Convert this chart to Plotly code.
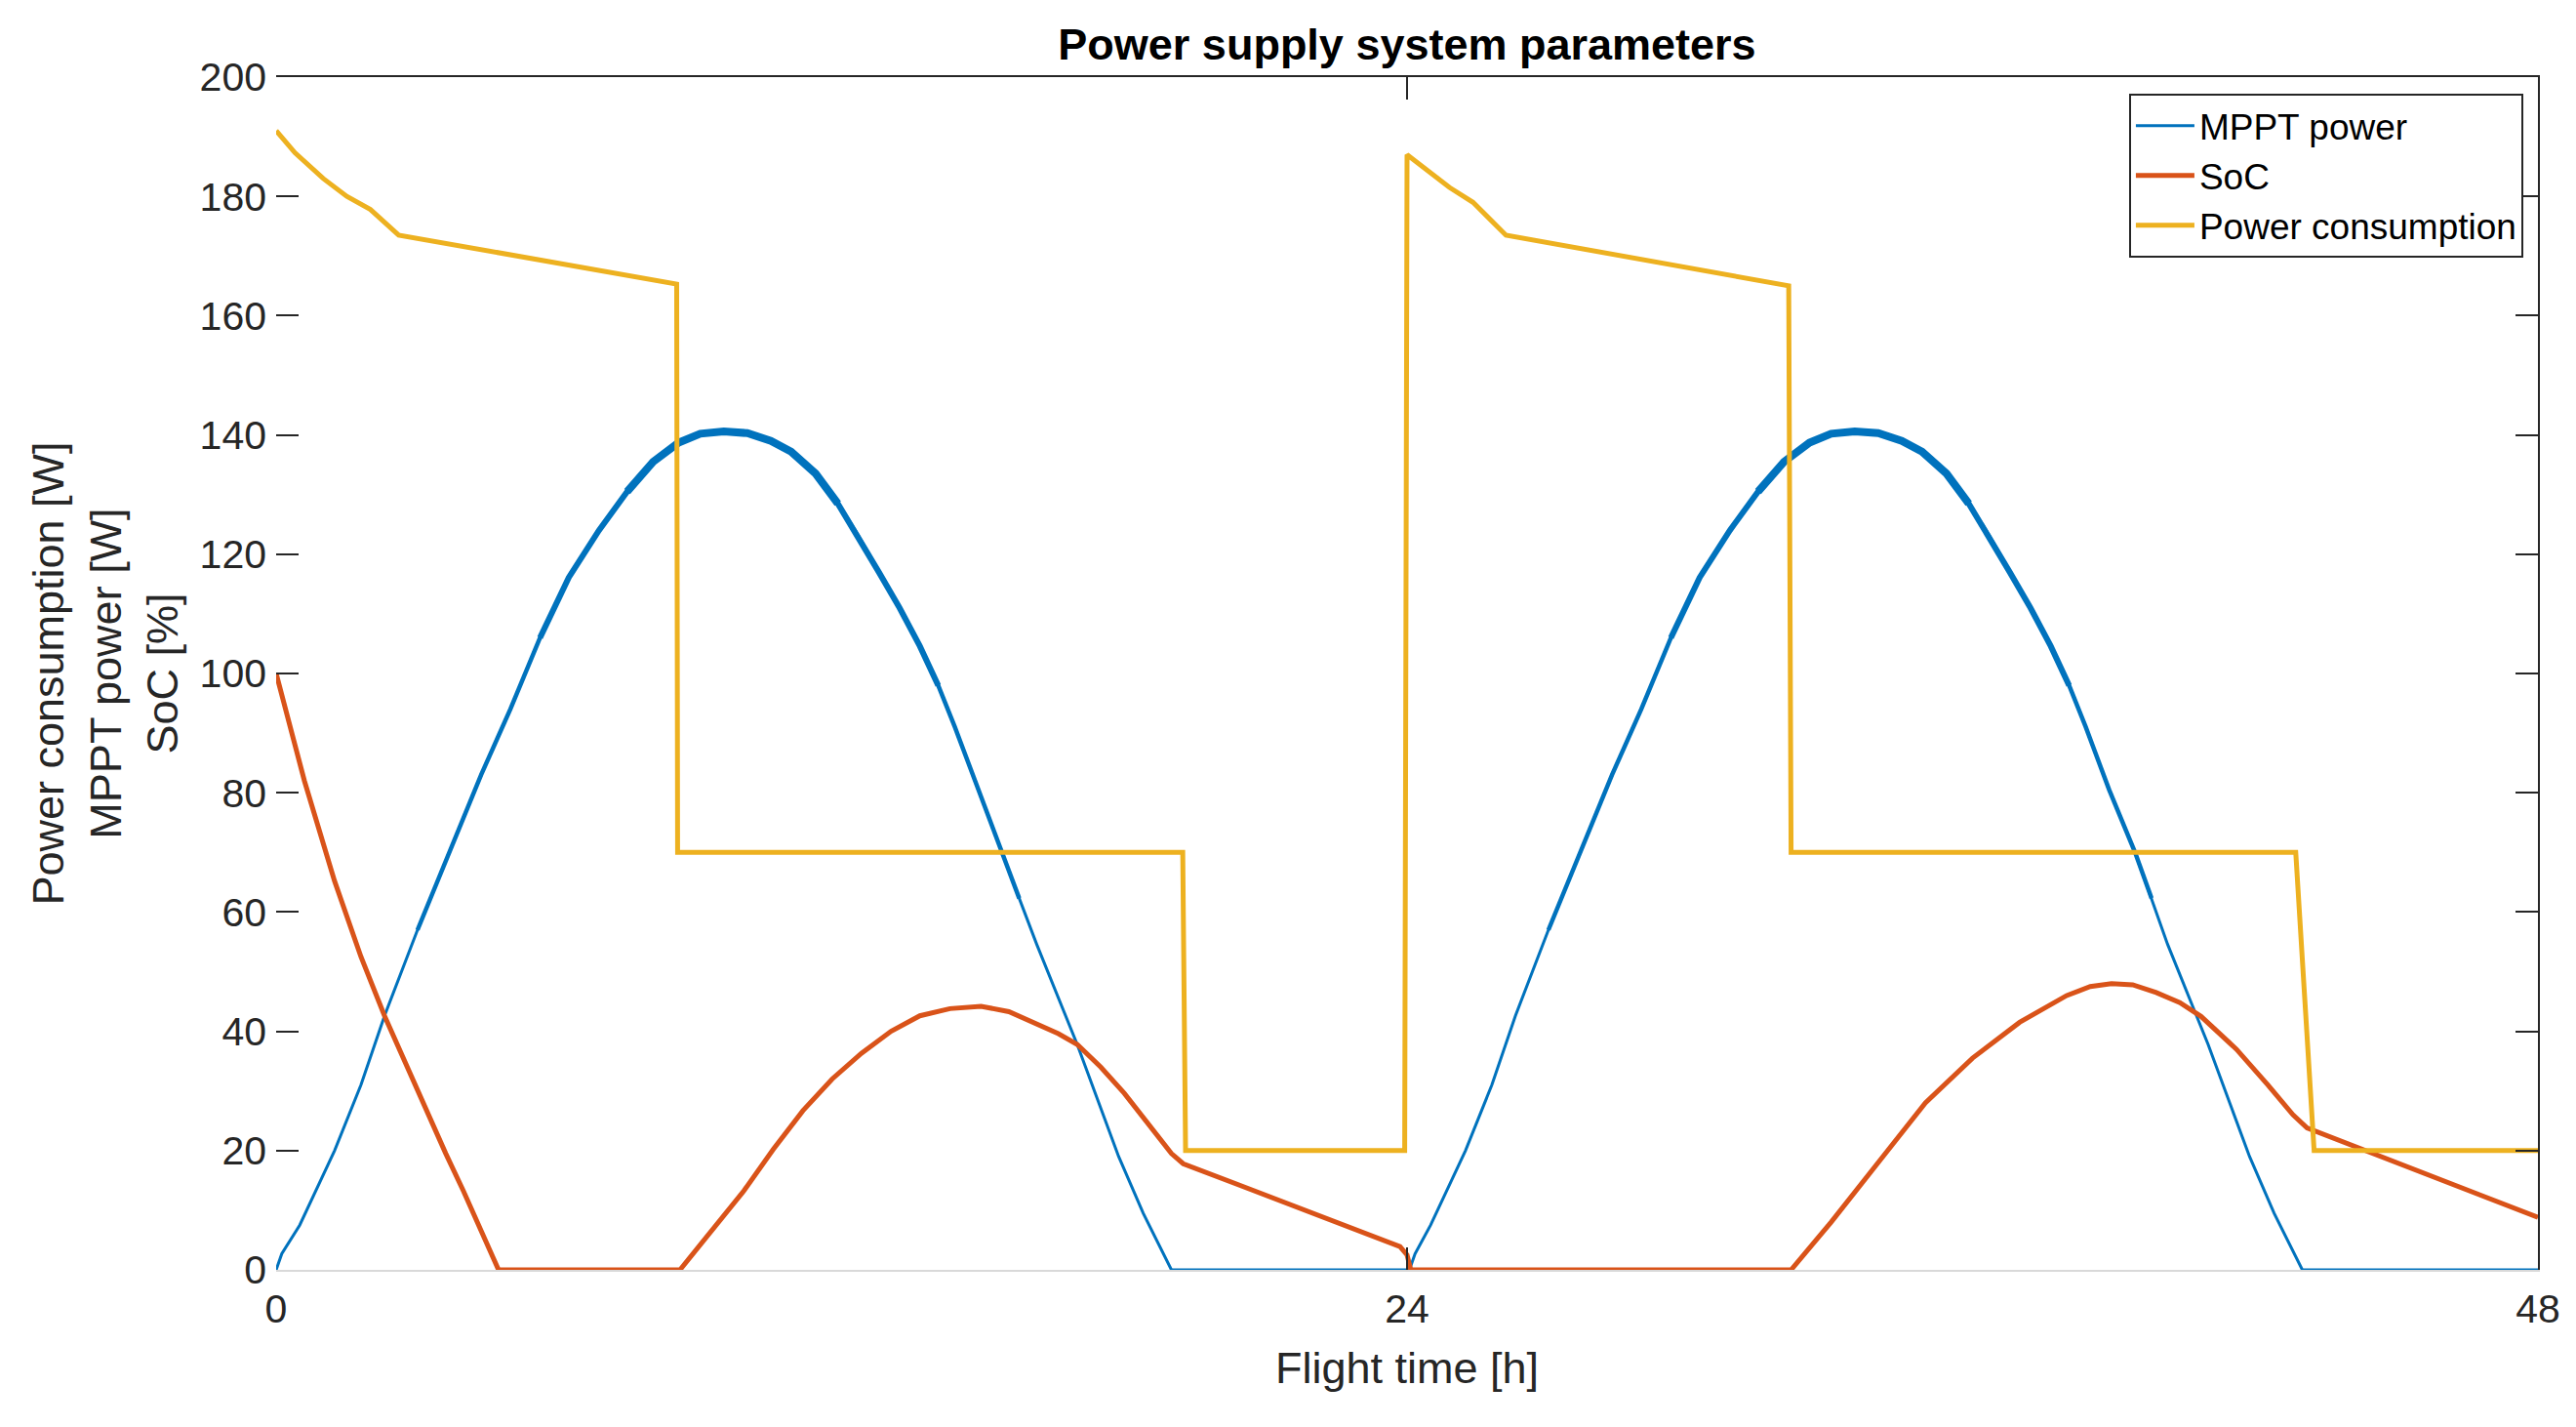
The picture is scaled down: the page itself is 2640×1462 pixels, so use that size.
import numpy as np
import plotly.graph_objects as go

# ---------------- data ----------------
mppt_t = [0, 0.12, 0.5, 1.24, 1.8, 2.30, 3.0, 3.73, 4.35, 4.97, 5.6, 6.21, 6.85, 7.45,
          8.0, 8.54, 9.0, 9.5, 10.0, 10.5, 10.93, 11.45, 11.92, 12.35, 12.79, 13.23,
          13.66, 14.05, 14.40, 14.9, 15.4, 15.77, 16.14, 16.57, 17.0, 17.44, 17.88,
          18.4, 18.94, 19.0,
          24.05, 24.17, 24.5, 25.24, 25.8, 26.3, 27.0, 27.73, 28.35, 28.97, 29.6, 30.21,
          30.85, 31.45, 32.0, 32.54, 33.0, 33.5, 34.0, 34.5, 34.93, 35.45, 35.92, 36.35,
          36.79, 37.23, 37.66, 38.05, 38.4, 38.9, 39.45, 39.8, 40.14, 40.57, 41.0,
          41.44, 41.88, 42.4, 42.94, 43.0, 48]
mppt_v = [0, 2.7, 7.5, 20, 31, 42.6, 57, 71, 83, 94, 106, 116.1, 124, 130.5,
          135.5, 138.7, 140.2, 140.6, 140.3, 139, 137.2, 133.5, 128.5, 123, 117, 111,
          104.6, 98, 91.1, 80.5, 70, 62.3, 54.6, 46.2, 37.8, 28.4, 19,
          9.5, 0.8, 0,
          0, 2.7, 7.5, 20, 31, 42.6, 57, 71, 83, 94, 106, 116.1,
          124, 130.5, 135.5, 138.7, 140.2, 140.6, 140.3, 139, 137.2, 133.5, 128.5, 123,
          117, 111, 104.6, 98, 91.1, 80.5, 70, 62.3, 54.6, 46.2, 37.8,
          28.4, 19, 9.5, 0.8, 0, 0]

soc_t = [0, 0.6, 1.24, 1.8, 2.30, 2.8, 3.23, 3.6, 3.97, 4.35, 4.72, 8.57, 9.25, 9.93,
         10.55, 11.18, 11.8, 12.42, 13.05, 13.66, 14.3, 14.96, 15.55, 16.14, 16.6, 17.0,
         17.5, 18.0, 18.5, 19.0, 19.25, 23.85, 24.0, 24.08, 32.15, 33, 34, 35, 36, 37,
         38, 38.5, 38.95, 39.4, 39.9, 40.4, 40.85, 41.6, 42.27, 42.8, 43.1, 48]
soc_v = [100, 82, 65.2, 52.5, 42.6, 33.8, 25.8, 19.5, 13.3, 6.6, 0, 0, 6.7, 13.3,
         20.2, 26.7, 32, 36.3, 40, 42.6, 43.8, 44.2, 43.3, 41.1, 39.6, 37.8,
         34, 29.6, 24.5, 19.5, 17.8, 3.9, 2.5, 0, 0, 8, 18, 28, 35.5, 41.5,
         46, 47.5, 48, 47.8, 46.5, 44.8, 42.5, 37, 31, 26, 23.8, 8.8]

pc_t = [0, 0.4, 1.0, 1.5, 2.0, 2.6, 8.5, 8.52, 19.24, 19.3, 23.95, 24.0, 24.9, 25.4,
        26.1, 32.1, 32.15, 42.86, 43.25, 48]
pc_v = [191, 187.3, 183, 180, 177.8, 173.5, 165.3, 70, 70, 20, 20, 187, 181.5, 179,
        173.5, 165, 70, 70, 20, 20]

x_ticks = [0, 24, 48]
y_ticks = list(range(0, 201, 20))

series_names = ["MPPT power", "SoC", "Power consumption"]
colors = ["#0072BD", "#D95319", "#EDB120"]

# ---------------- figure ----------------
W, H = 2640, 1462
OFF = 8  # page body offset of the figure
ml, mr, mt, mb = 283 - OFF, 39 + OFF, 79 - OFF, 161 + OFF

fig = go.Figure()

fig.add_trace(go.Scatter(x=mppt_t, y=mppt_v, mode="lines", name=series_names[0],
                         line=dict(color=colors[0], width=3)))
# the noisy MPPT signal looks thicker near the peaks
mv = np.array(mppt_v, dtype=float)
for thr, wd in [(55, 4.5), (95, 6), (125, 8)]:
    fig.add_trace(go.Scatter(x=mppt_t, y=np.where(mv >= thr, mv, np.nan),
                             mode="lines", showlegend=False, connectgaps=False,
                             hoverinfo="skip", line=dict(color=colors[0], width=wd)))
fig.add_trace(go.Scatter(x=soc_t, y=soc_v, mode="lines", name=series_names[1],
                         line=dict(color=colors[1], width=5)))
fig.add_trace(go.Scatter(x=pc_t, y=pc_v, mode="lines", name=series_names[2],
                         line=dict(color=colors[2], width=5)))

font_family = "Liberation Sans, Arial, sans-serif"
dark = "#262626"

fig.update_layout(
    width=W, height=H,
    margin=dict(l=ml, r=mr, t=mt, b=mb),
    paper_bgcolor="white", plot_bgcolor="white",
    font=dict(family=font_family, color=dark, size=41),
    title=dict(text="<b>Power supply system parameters</b>", x=0.5, xref="paper",
               y=1 - (45 - OFF) / H, yanchor="middle", xanchor="center",
               font=dict(size=45, color="black")),
    showlegend=True,
    legend=dict(x=0.9935, y=0.986, xanchor="right", yanchor="top",
                bgcolor="white", bordercolor=dark, borderwidth=2,
                font=dict(size=37, color="black"), itemwidth=60,
                tracegroupgap=0, traceorder="normal"),
    xaxis=dict(range=[0, 48], tickvals=x_ticks, ticktext=[str(v) for v in x_ticks],
               ticks="inside", ticklen=23, tickwidth=2, tickcolor=dark,
               showline=True, linecolor="#d9d9d9", linewidth=2,
               ticklabelstandoff=3,
               showgrid=False, zeroline=False, tickfont=dict(size=41, color=dark),
               title=dict(text="Flight time [h]", font=dict(size=45, color=dark),
                          standoff=22)),
    yaxis=dict(range=[0, 200], tickvals=y_ticks,
               ticks="inside", ticklen=23, tickwidth=2, tickcolor=dark,
               showline=False, showgrid=False, zeroline=False,
               ticklabelstandoff=9,
               tickfont=dict(size=41, color=dark),
               title=dict(text="Power consumption [W]<br>MPPT power [W]<br>SoC [%]",
                          font=dict(size=45, color=dark), standoff=7)),
    xaxis2=dict(range=[0, 48], overlaying="x", side="top", tickvals=x_ticks,
                showticklabels=False, ticks="inside", ticklen=23, tickwidth=2,
                tickcolor=dark, showline=True, linecolor=dark, linewidth=2,
                showgrid=False, zeroline=False),
    yaxis2=dict(range=[0, 200], overlaying="y", side="right", tickvals=y_ticks,
                showticklabels=False, ticks="inside", ticklen=23, tickwidth=2,
                tickcolor=dark, showline=True, linecolor=dark, linewidth=2,
                showgrid=False, zeroline=False),
)

# empty helper trace so the mirrored (top / right) axes are drawn
fig.add_trace(go.Scatter(x=[], y=[], xaxis="x2", yaxis="y2", showlegend=False,
                         hoverinfo="skip"))

fig.write_html("out.html")
